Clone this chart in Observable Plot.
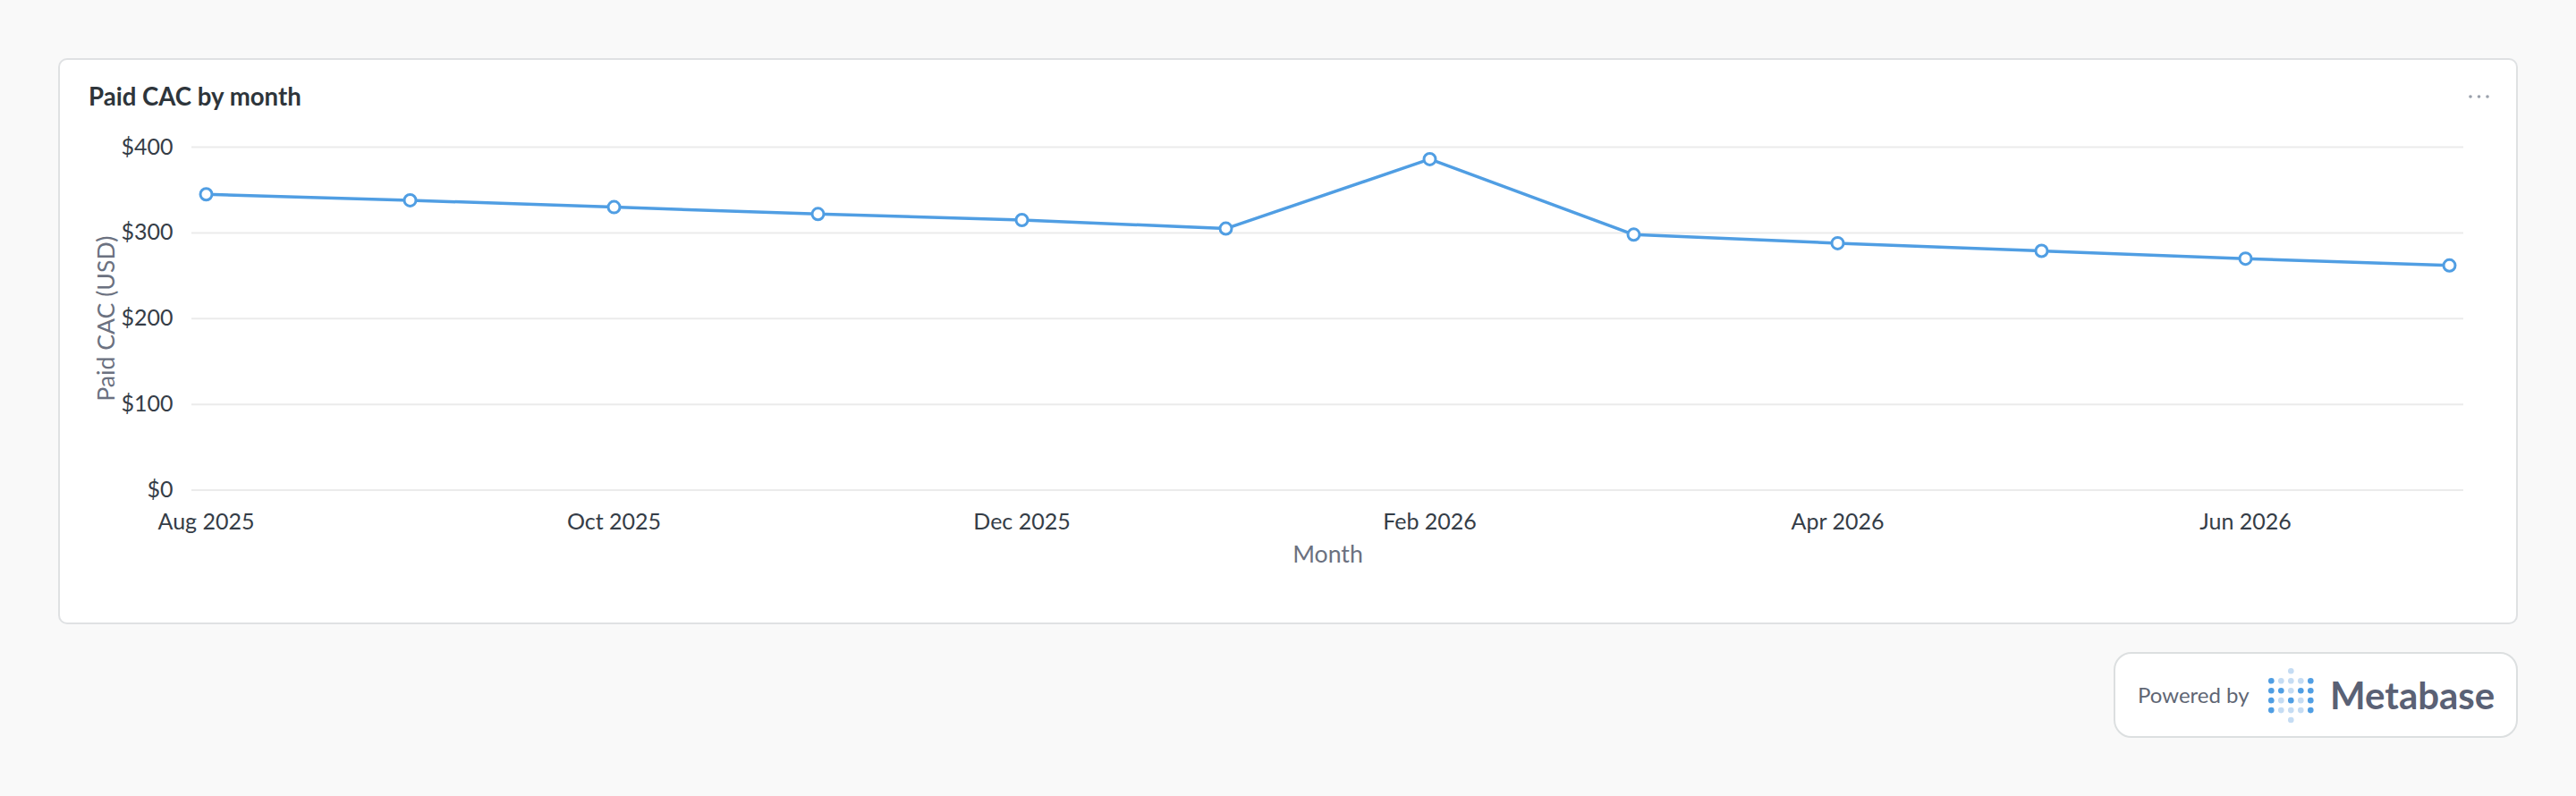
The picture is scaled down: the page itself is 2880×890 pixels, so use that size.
<!DOCTYPE html>
<html>
<head>
<meta charset="utf-8">
<script src="https://cdn.jsdelivr.net/npm/d3@7"></script>
<script src="https://cdn.jsdelivr.net/npm/@observablehq/plot@0.6"></script>
<style>
  html, body { margin: 0; padding: 0; background: #f9f9f9; }
  #page { position: relative; width: 2880px; height: 890px; overflow: hidden; font-family: Lato, "Noto Sans", sans-serif; }
  .card { position: absolute; left: 65px; top: 65px; width: 2750px; height: 633px; box-sizing: border-box;
          background: #fff; border: 2px solid #dfe1e3; border-radius: 10px; }
  .badge { position: absolute; left: 2363px; top: 729px; width: 452px; height: 96px; box-sizing: border-box;
           background: #fff; border: 2px solid #dcdfe0; border-radius: 20px; }
  #chart { position: absolute; left: 65px; top: 130px; }
  #chart svg { overflow: visible; }
  #overlay { position: absolute; left: 0; top: 0; pointer-events: none; }
  g[aria-label="y-axis label"], g[aria-label="x-axis label"] { fill: #6b7180; font-size: 26.7px; }
</style>
</head>
<body>
<div id="page">
  <div class="card"></div>
  <div class="badge"></div>
  <div id="chart"></div>
  <svg id="overlay" width="2880" height="890"></svg>
</div>
<script>
// ---- data ----
const months = ["Aug 2025","Sep 2025","Oct 2025","Nov 2025","Dec 2025","Jan 2026","Feb 2026","Mar 2026","Apr 2026","May 2026","Jun 2026","Jul 2026"];
const paidCac = [345, 338, 330, 322, 315, 305, 386, 298, 288, 279, 270, 262];
const xTickLabels = ["Aug 2025","Oct 2025","Dec 2025","Feb 2026","Apr 2026","Jun 2026"];
const yTicks = [0, 100, 200, 300, 400];
const chartTitle = "Paid CAC by month";
const yLabel = "Paid CAC (USD)";
const xLabel = "Month";

const data = months.map((m, i) => ({month: m, value: paidCac[i]}));
const blue = "#509ee3";

const plot = Plot.plot({
  width: 2750,
  height: 560,
  marginLeft: 149,
  marginRight: 61,
  marginTop: 34,
  marginBottom: 142.5,
  style: {fontFamily: "Lato, 'Noto Sans', sans-serif", fontSize: "25px", color: "#353d47", background: "transparent"},
  x: {type: "point", domain: months, padding: 0.07},
  y: {domain: [0, 400]},
  marks: [
    Plot.gridY(yTicks, {stroke: "#ebebeb", strokeOpacity: 1, strokeWidth: 2}),
    Plot.axisY({ticks: yTicks, tickSize: 0, tickPadding: 21, tickFormat: d => "$" + d, fontSize: 25,
                label: yLabel, labelAnchor: "center", labelArrow: "none", labelOffset: 105}),
    Plot.axisX({ticks: xTickLabels, tickSize: 0, tickPadding: 26, fontSize: 25,
                label: xLabel, labelAnchor: "center", labelArrow: "none", labelOffset: 80.5}),
    Plot.line(data, {x: "month", y: "value", stroke: blue, strokeWidth: 3.5}),
    Plot.dot(data, {x: "month", y: "value", r: 6.5, fill: "white", stroke: blue, strokeWidth: 3})
  ]
});
document.getElementById("chart").appendChild(plot);

// ---- decorations (card title, menu, badge) ----
const ov = d3.select("#overlay");
ov.append("text").attr("x", 99).attr("y", 118).attr("font-family", "Lato").attr("font-weight", 700)
  .attr("font-size", 27.6).attr("fill", "#2e353b").text(chartTitle);
[2762, 2771.5, 2781].forEach(cx => ov.append("circle").attr("cx", cx).attr("cy", 108).attr("r", 1.8).attr("fill", "#9aa0ab"));
ov.append("text").attr("x", 2390).attr("y", 786).attr("font-family", "Lato").attr("font-size", 24)
  .attr("fill", "#5f6674").text("Powered by");
const logo = [
  [0,0,1,0,0],
  [2,1,1,1,2],
  [2,2,1,2,2],
  [2,1,2,1,2],
  [2,1,1,1,2],
  [0,0,1,0,0]
];
logo.forEach((row, j) => row.forEach((v, i) => {
  if (v) ov.append("circle").attr("cx", 2539.3 + 11 * i).attr("cy", 750.3 + 10.95 * j).attr("r", 3.3)
    .attr("fill", v === 2 ? "#509ee3" : "#c5dcf3");
}));
ov.append("text").attr("x", 2605).attr("y", 793).attr("font-family", "Lato").attr("font-weight", 700)
  .attr("font-size", 42).attr("fill", "#5a6175").text("Metabase");
</script>
</body>
</html>
